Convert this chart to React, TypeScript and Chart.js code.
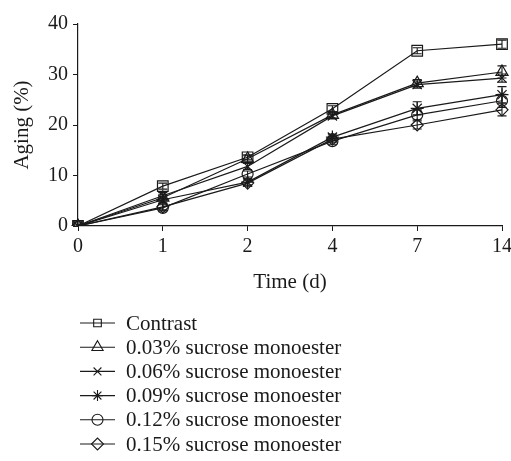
import React, { useEffect, useRef } from 'react';
import { Chart, registerables } from 'chart.js';
import { drawPoint } from 'chart.js/helpers';
Chart.register(...registerables);

const days = ['0', '1', '2', '4', '7', '14'];
const names = [
  'Contrast',
  '0.03% sucrose monoester',
  '0.06% sucrose monoester',
  '0.09% sucrose monoester',
  '0.12% sucrose monoester',
  '0.15% sucrose monoester',
];
const contrast = [0, 7.9, 13.6, 23.2, 34.7, 36.0];
const s003 = [0, 5.6, 13.3, 22.0, 28.3, 30.5];
const s006 = [0, 6.0, 11.8, 21.8, 28.0, 29.3];
const s009 = [0, 5.2, 8.7, 17.6, 23.3, 26.0];
const s012 = [0, 3.6, 10.3, 16.8, 22.0, 24.8];
const s015 = [0, 3.8, 8.5, 17.2, 20.0, 23.0];
const errContrast = [0, 0.6, 0.5, 0.6, 0.6, 0.8];
const err003 = [0, 0.6, 0.6, 0.6, 0.7, 1.2];
const err006 = [0, 0.6, 0.6, 0.6, 0.7, 0.8];
const err009 = [0, 0.6, 0.6, 0.6, 1.3, 1.6];
const err012 = [0, 0.6, 0.6, 0.6, 1.0, 1.3];
const err015 = [0, 0.6, 0.6, 0.6, 0.8, 1.2];

const seriesValues = [contrast, s003, s006, s009, s012, s015];
const seriesErrors = [errContrast, err003, err006, err009, err012, err015];
const markers = ['rect', 'triangle', 'crossRot', 'star', 'circle', 'rectRot'];
const radii = [7.5, 7, 6.5, 6.5, 5.5, 6];
const legendRadii = [5.4, 6.5, 5.5, 5.5, 5.5, 6];

const FONT = '"Liberation Serif", "Times New Roman", serif';
const INK = '#1a1a1a';

const errorBarPlugin = {
  id: 'errorBars',
  afterDatasetsDraw(chart: any) {
    const ctx = chart.ctx;
    const y = chart.scales.y;
    ctx.save();
    ctx.strokeStyle = INK;
    ctx.lineWidth = 1.1;
    chart.data.datasets.forEach((ds: any, di: number) => {
      const meta = chart.getDatasetMeta(di);
      const errs = seriesErrors[di];
      meta.data.forEach((pt: any, i: number) => {
        const v = ds.data[i];
        const e = errs[i];
        if (!e) return;
        const top = y.getPixelForValue(v + e);
        const bot = y.getPixelForValue(v - e);
        ctx.beginPath();
        ctx.moveTo(pt.x, top);
        ctx.lineTo(pt.x, bot);
        ctx.moveTo(pt.x - 4.5, top);
        ctx.lineTo(pt.x + 4.5, top);
        ctx.moveTo(pt.x - 4.5, bot);
        ctx.lineTo(pt.x + 4.5, bot);
        ctx.stroke();
      });
    });
    ctx.restore();
  },
};

const legendPlugin = {
  id: 'customLegend',
  afterDraw(chart: any) {
    const ctx = chart.ctx;
    const x = chart.scales.x;
    const startY = x.bottom + 28;
    const step = 24.2;
    ctx.save();
    names.forEach((name, i) => {
      const yy = startY + i * step;
      ctx.strokeStyle = INK;
      ctx.lineWidth = 1.1;
      ctx.beginPath();
      ctx.moveTo(80, yy);
      ctx.lineTo(115, yy);
      ctx.stroke();
      ctx.fillStyle = 'rgba(0,0,0,0)';
      drawPoint(ctx, { pointStyle: markers[i] as any, radius: legendRadii[i], rotation: 0, borderWidth: 1.1 } as any, 97.5, yy);
      ctx.fillStyle = INK;
      ctx.font = `21px ${FONT}`;
      ctx.textBaseline = 'middle';
      ctx.textAlign = 'left';
      ctx.fillText(name, 126, yy + 1);
    });
    ctx.restore();
  },
};

export default function App() {
  const ref = useRef<HTMLCanvasElement | null>(null);
  useEffect(() => {
    document.body.style.margin = '0';
    const canvas = ref.current!;
    const chart = new Chart(canvas, {
      type: 'line',
      data: {
        labels: days,
        datasets: seriesValues.map((vals, i) => ({
          label: names[i],
          data: vals,
          borderColor: INK,
          borderWidth: 1.2,
          backgroundColor: 'rgba(0,0,0,0)',
          pointStyle: markers[i] as any,
          pointRadius: radii[i],
          pointBorderColor: INK,
          pointBackgroundColor: 'rgba(0,0,0,0)',
          pointBorderWidth: 1.2,
          tension: 0,
        })),
      },
      options: {
        responsive: false,
        animation: false,
        layout: { padding: { left: 0, right: 9, top: 24, bottom: 166 } },
        plugins: {
          legend: { display: false },
          tooltip: { enabled: false },
        },
        scales: {
          x: {
            type: 'category',
            offset: false,
            grid: { drawOnChartArea: false, drawTicks: true, tickLength: 5, color: INK },
            border: { display: true, color: INK, width: 1.2 },
            ticks: { color: INK, font: { family: FONT, size: 20 }, padding: 4, maxRotation: 0 },
            title: { display: true, text: 'Time (d)', color: INK, font: { family: FONT, size: 21 }, padding: 0 },
            afterFit(scale: any) {
              scale.height = 69;
              scale.paddingRight = 0;
              scale.paddingLeft = 0;
            },
          },
          y: {
            min: 0,
            max: 40,
            ticks: { stepSize: 10, color: INK, font: { family: FONT, size: 20 }, padding: 5 },
            grid: { drawOnChartArea: false, drawTicks: true, tickLength: 5, color: INK },
            border: { display: true, color: INK, width: 1.2 },
            title: { display: true, text: 'Aging (%)', color: INK, font: { family: FONT, size: 21 }, padding: { top: 10, bottom: 0 } },
            afterFit(scale: any) {
              scale.width = 78;
            },
          },
        },
      },
      plugins: [errorBarPlugin, legendPlugin],
    });
    return () => chart.destroy();
  }, []);
  return <canvas ref={ref} width={511} height={461} style={{ display: 'block' }} />;
}
